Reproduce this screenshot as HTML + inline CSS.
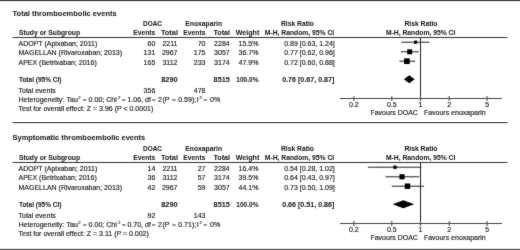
<!DOCTYPE html>
<html><head><meta charset="utf-8"><title>Forest plot</title>
<style>html,body{margin:0;padding:0;background:#fff;width:520px;height:250px;overflow:hidden}svg{display:block}text{stroke:#1a1a1a;stroke-width:0.15px}text[font-weight=bold]{stroke-width:0.05px}</style>
</head><body>
<svg width="520" height="250" viewBox="0 0 520 250" font-family="Liberation Sans, Arial, sans-serif" fill="#1a1a1a">
<defs><filter id="sf" filterUnits="userSpaceOnUse" x="0" y="0" width="520" height="250" color-interpolation-filters="sRGB"><feConvolveMatrix order="3" kernelMatrix="1 2 1 2 28 2 1 2 1" edgeMode="duplicate"/></filter></defs><rect width="520" height="250" fill="#fff"/>
<rect x="0" y="0" width="520" height="1.15" fill="#484848"/>
<rect x="12.7" y="122" width="494.8" height="1.2" fill="#5c5c5c"/>
<rect x="0" y="248.8" width="520" height="1.2" fill="#585858"/>
<g filter="url(#sf)">
<text x="12.60" y="16.00" font-size="7.5" font-weight="bold">Total thromboembolic events</text>
<text x="152.50" y="26.40" font-size="6.75" font-weight="bold" text-anchor="middle" textLength="19.00" lengthAdjust="spacingAndGlyphs">DOAC</text>
<text x="203.75" y="26.40" font-size="6.75" font-weight="bold" text-anchor="middle">Enoxaparin</text>
<text x="297.40" y="26.40" font-size="6.75" font-weight="bold" text-anchor="middle">Risk Ratio</text>
<text x="420.90" y="26.40" font-size="6.75" font-weight="bold" text-anchor="middle">Risk Ratio</text>
<text x="19.00" y="35.25" font-size="6.75" font-weight="bold">Study or Subgroup</text>
<text x="155.30" y="35.25" font-size="6.75" font-weight="bold" text-anchor="end">Events</text>
<text x="178.00" y="35.25" font-size="6.75" font-weight="bold" text-anchor="end" textLength="17.10" lengthAdjust="spacingAndGlyphs">Total</text>
<text x="205.50" y="35.25" font-size="6.75" font-weight="bold" text-anchor="end">Events</text>
<text x="230.10" y="35.25" font-size="6.75" font-weight="bold" text-anchor="end" textLength="16.60" lengthAdjust="spacingAndGlyphs">Total</text>
<text x="259.30" y="35.25" font-size="6.75" font-weight="bold" text-anchor="end" textLength="23.50" lengthAdjust="spacingAndGlyphs">Weight</text>
<text x="334.20" y="35.25" font-size="6.75" font-weight="bold" text-anchor="end">M-H, Random, 95% CI</text>
<text x="420.60" y="35.25" font-size="6.75" font-weight="bold" text-anchor="middle">M-H, Random, 95% CI</text>
<rect x="12.5" y="37" width="495" height="1" fill="#333"/>
<text x="18.50" y="45.60" font-size="7">ADOPT (Apixaban; 2011)</text>
<text x="155.30" y="45.60" font-size="7" text-anchor="end">60</text>
<text x="177.50" y="45.60" font-size="7" text-anchor="end">2211</text>
<text x="205.50" y="45.60" font-size="7" text-anchor="end">70</text>
<text x="229.70" y="45.60" font-size="7" text-anchor="end">2284</text>
<text x="258.40" y="45.60" font-size="7" text-anchor="end">15.5%</text>
<text x="334.80" y="45.60" font-size="7" text-anchor="end">0.89 [0.63, 1.24]</text>
<line x1="401.38" y1="42.20" x2="429.40" y2="42.20" stroke="#222" stroke-width="1"/>
<rect x="414.06" y="40.59" width="3.23" height="3.23" fill="#000"/>
<text x="18.50" y="55.20" font-size="7">MAGELLAN (Rivaroxaban; 2013)</text>
<text x="155.30" y="55.20" font-size="7" text-anchor="end">131</text>
<text x="177.50" y="55.20" font-size="7" text-anchor="end">2967</text>
<text x="205.50" y="55.20" font-size="7" text-anchor="end">175</text>
<text x="229.70" y="55.20" font-size="7" text-anchor="end">3057</text>
<text x="258.40" y="55.20" font-size="7" text-anchor="end">36.7%</text>
<text x="334.80" y="55.20" font-size="7" text-anchor="end">0.77 [0.62, 0.96]</text>
<line x1="400.71" y1="51.80" x2="418.81" y2="51.80" stroke="#222" stroke-width="1"/>
<rect x="407.20" y="49.32" width="4.97" height="4.97" fill="#000"/>
<text x="18.50" y="64.60" font-size="7">APEX (Betrixaban; 2016)</text>
<text x="155.30" y="64.60" font-size="7" text-anchor="end">165</text>
<text x="177.50" y="64.60" font-size="7" text-anchor="end">3112</text>
<text x="205.50" y="64.60" font-size="7" text-anchor="end">233</text>
<text x="229.70" y="64.60" font-size="7" text-anchor="end">3174</text>
<text x="258.40" y="64.60" font-size="7" text-anchor="end">47.9%</text>
<text x="334.80" y="64.60" font-size="7" text-anchor="end">0.72 [0.60, 0.88]</text>
<line x1="399.36" y1="61.20" x2="415.21" y2="61.20" stroke="#222" stroke-width="1"/>
<rect x="404.07" y="58.36" width="5.68" height="5.68" fill="#000"/>
<text x="18.90" y="82.25" font-size="6.75" font-weight="bold" textLength="42.60" lengthAdjust="spacingAndGlyphs">Total (95% CI)</text>
<text x="177.60" y="82.25" font-size="7" font-weight="bold" text-anchor="end" textLength="16.40" lengthAdjust="spacingAndGlyphs">8290</text>
<text x="229.80" y="82.25" font-size="7" font-weight="bold" text-anchor="end" textLength="16.20" lengthAdjust="spacingAndGlyphs">8515</text>
<text x="258.50" y="82.25" font-size="7" font-weight="bold" text-anchor="end" textLength="22.20" lengthAdjust="spacingAndGlyphs">100.0%</text>
<text x="334.40" y="82.25" font-size="7" font-weight="bold" text-anchor="end" textLength="52.20" lengthAdjust="spacingAndGlyphs">0.76 [0.67, 0.87]</text>
<polygon points="403.92,79.35 409.14,75.35 414.74,79.35 409.14,83.35" fill="#000"/>
<text x="18.50" y="92.60" font-size="7">Total events</text>
<text x="155.30" y="92.60" font-size="7" text-anchor="end">356</text>
<text x="205.50" y="92.60" font-size="7" text-anchor="end">478</text>
<text font-size="7.05"><tspan x="18.50" y="102.20">Heterogeneity:</tspan><tspan x="66.60" y="102.20">Tau</tspan><tspan x="78.20" y="99.30" font-size="4.3">2</tspan><tspan x="83.05" y="102.00" font-size="6.0">=</tspan><tspan x="88.60" y="102.20">0.00;</tspan><tspan x="106.15" y="102.20">Chi</tspan><tspan x="117.90" y="99.30" font-size="4.3">2</tspan><tspan x="122.00" y="102.00" font-size="6.0">=</tspan><tspan x="127.40" y="102.20">1.06,</tspan><tspan x="145.05" y="102.20">df</tspan><tspan x="152.10" y="102.00" font-size="6.0">=</tspan><tspan x="158.10" y="102.20">2</tspan><tspan x="162.50" y="102.20">(P</tspan><tspan x="172.30" y="102.00" font-size="6.0">=</tspan><tspan x="178.20" y="102.20">0.59);</tspan><tspan x="196.70" y="102.20">I</tspan><tspan x="199.60" y="99.30" font-size="4.3">2</tspan><tspan x="203.45" y="102.00" font-size="6.0">=</tspan><tspan x="210.00" y="102.20">0%</tspan></text>
<text x="18.50" y="111.40" font-size="7">Test for overall effect: Z = 3.96 (P &lt; 0.0001)</text>
<line x1="420.5" y1="37.5" x2="420.5" y2="98.5" stroke="#222" stroke-width="1"/>
<line x1="340" y1="98.5" x2="502" y2="98.5" stroke="#454545" stroke-width="1"/>
<line x1="353.89" y1="96" x2="353.89" y2="101" stroke="#454545" stroke-width="1"/>
<text x="353.89" y="106.50" font-size="7" text-anchor="middle">0.2</text>
<line x1="391.81" y1="96" x2="391.81" y2="101" stroke="#454545" stroke-width="1"/>
<text x="391.81" y="106.50" font-size="7" text-anchor="middle">0.5</text>
<line x1="420.50" y1="96" x2="420.50" y2="101" stroke="#454545" stroke-width="1"/>
<text x="420.50" y="106.50" font-size="7" text-anchor="middle">1</text>
<line x1="449.19" y1="96" x2="449.19" y2="101" stroke="#454545" stroke-width="1"/>
<text x="449.19" y="106.50" font-size="7" text-anchor="middle">2</text>
<line x1="487.11" y1="96" x2="487.11" y2="101" stroke="#454545" stroke-width="1"/>
<text x="487.11" y="106.50" font-size="7" text-anchor="middle">5</text>
<text x="417.90" y="115.00" font-size="7" text-anchor="end">Favours DOAC</text>
<text x="423.90" y="115.00" font-size="7">Favours enoxaparin</text>
<text x="12.60" y="140.00" font-size="7.5" font-weight="bold" textLength="132.50" lengthAdjust="spacingAndGlyphs">Symptomatic thromboembolic events</text>
<text x="152.50" y="151.40" font-size="6.75" font-weight="bold" text-anchor="middle" textLength="19.00" lengthAdjust="spacingAndGlyphs">DOAC</text>
<text x="203.75" y="151.40" font-size="6.75" font-weight="bold" text-anchor="middle">Enoxaparin</text>
<text x="297.40" y="151.40" font-size="6.75" font-weight="bold" text-anchor="middle">Risk Ratio</text>
<text x="420.90" y="151.40" font-size="6.75" font-weight="bold" text-anchor="middle">Risk Ratio</text>
<text x="19.00" y="160.25" font-size="6.75" font-weight="bold">Study or Subgroup</text>
<text x="155.30" y="160.25" font-size="6.75" font-weight="bold" text-anchor="end">Events</text>
<text x="178.00" y="160.25" font-size="6.75" font-weight="bold" text-anchor="end" textLength="17.10" lengthAdjust="spacingAndGlyphs">Total</text>
<text x="205.50" y="160.25" font-size="6.75" font-weight="bold" text-anchor="end">Events</text>
<text x="230.10" y="160.25" font-size="6.75" font-weight="bold" text-anchor="end" textLength="16.60" lengthAdjust="spacingAndGlyphs">Total</text>
<text x="259.30" y="160.25" font-size="6.75" font-weight="bold" text-anchor="end" textLength="23.50" lengthAdjust="spacingAndGlyphs">Weight</text>
<text x="334.20" y="160.25" font-size="6.75" font-weight="bold" text-anchor="end">M-H, Random, 95% CI</text>
<text x="420.60" y="160.25" font-size="6.75" font-weight="bold" text-anchor="middle">M-H, Random, 95% CI</text>
<rect x="12.5" y="162" width="495" height="1" fill="#333"/>
<text x="18.50" y="170.60" font-size="7">ADOPT (Apixaban; 2011)</text>
<text x="155.30" y="170.60" font-size="7" text-anchor="end">14</text>
<text x="177.50" y="170.60" font-size="7" text-anchor="end">2211</text>
<text x="205.50" y="170.60" font-size="7" text-anchor="end">27</text>
<text x="229.70" y="170.60" font-size="7" text-anchor="end">2284</text>
<text x="258.40" y="170.60" font-size="7" text-anchor="end">16.4%</text>
<text x="334.80" y="170.60" font-size="7" text-anchor="end">0.54 [0.28, 1.02]</text>
<line x1="367.81" y1="167.20" x2="421.32" y2="167.20" stroke="#222" stroke-width="1"/>
<rect x="393.34" y="165.54" width="3.32" height="3.32" fill="#000"/>
<text x="18.50" y="180.20" font-size="7">APEX (Betrixaban; 2016)</text>
<text x="155.30" y="180.20" font-size="7" text-anchor="end">36</text>
<text x="177.50" y="180.20" font-size="7" text-anchor="end">3112</text>
<text x="205.50" y="180.20" font-size="7" text-anchor="end">57</text>
<text x="229.70" y="180.20" font-size="7" text-anchor="end">3174</text>
<text x="258.40" y="180.20" font-size="7" text-anchor="end">39.5%</text>
<text x="334.80" y="180.20" font-size="7" text-anchor="end">0.64 [0.43, 0.97]</text>
<line x1="385.57" y1="176.80" x2="419.24" y2="176.80" stroke="#222" stroke-width="1"/>
<rect x="399.45" y="174.22" width="5.15" height="5.15" fill="#000"/>
<text x="18.50" y="189.60" font-size="7">MAGELLAN (Rivaroxaban; 2013)</text>
<text x="155.30" y="189.60" font-size="7" text-anchor="end">42</text>
<text x="177.50" y="189.60" font-size="7" text-anchor="end">2967</text>
<text x="205.50" y="189.60" font-size="7" text-anchor="end">59</text>
<text x="229.70" y="189.60" font-size="7" text-anchor="end">3057</text>
<text x="258.40" y="189.60" font-size="7" text-anchor="end">44.1%</text>
<text x="334.80" y="189.60" font-size="7" text-anchor="end">0.73 [0.50, 1.09]</text>
<line x1="391.81" y1="186.20" x2="424.07" y2="186.20" stroke="#222" stroke-width="1"/>
<rect x="404.75" y="183.48" width="5.45" height="5.45" fill="#000"/>
<text x="18.90" y="207.25" font-size="6.75" font-weight="bold" textLength="42.60" lengthAdjust="spacingAndGlyphs">Total (95% CI)</text>
<text x="177.60" y="207.25" font-size="7" font-weight="bold" text-anchor="end" textLength="16.40" lengthAdjust="spacingAndGlyphs">8290</text>
<text x="229.80" y="207.25" font-size="7" font-weight="bold" text-anchor="end" textLength="16.20" lengthAdjust="spacingAndGlyphs">8515</text>
<text x="258.50" y="207.25" font-size="7" font-weight="bold" text-anchor="end" textLength="22.20" lengthAdjust="spacingAndGlyphs">100.0%</text>
<text x="334.40" y="207.25" font-size="7" font-weight="bold" text-anchor="end" textLength="52.20" lengthAdjust="spacingAndGlyphs">0.66 [0.51, 0.86]</text>
<polygon points="392.63,204.35 403.30,200.35 414.26,204.35 403.30,208.35" fill="#000"/>
<text x="18.50" y="217.60" font-size="7">Total events</text>
<text x="155.30" y="217.60" font-size="7" text-anchor="end">92</text>
<text x="205.50" y="217.60" font-size="7" text-anchor="end">143</text>
<text font-size="7.05"><tspan x="18.50" y="227.20">Heterogeneity:</tspan><tspan x="66.60" y="227.20">Tau</tspan><tspan x="78.20" y="224.30" font-size="4.3">2</tspan><tspan x="83.05" y="227.00" font-size="6.0">=</tspan><tspan x="88.60" y="227.20">0.00;</tspan><tspan x="106.15" y="227.20">Chi</tspan><tspan x="117.90" y="224.30" font-size="4.3">2</tspan><tspan x="122.00" y="227.00" font-size="6.0">=</tspan><tspan x="127.40" y="227.20">0.70,</tspan><tspan x="145.05" y="227.20">df</tspan><tspan x="152.10" y="227.00" font-size="6.0">=</tspan><tspan x="158.10" y="227.20">2</tspan><tspan x="162.50" y="227.20">(P</tspan><tspan x="172.30" y="227.00" font-size="6.0">=</tspan><tspan x="178.20" y="227.20">0.71);</tspan><tspan x="196.70" y="227.20">I</tspan><tspan x="199.60" y="224.30" font-size="4.3">2</tspan><tspan x="203.45" y="227.00" font-size="6.0">=</tspan><tspan x="210.00" y="227.20">0%</tspan></text>
<text x="18.50" y="236.40" font-size="7">Test for overall effect: Z = 3.11 (P = 0.002)</text>
<line x1="420.5" y1="162.5" x2="420.5" y2="223.5" stroke="#222" stroke-width="1"/>
<line x1="340" y1="223.5" x2="502" y2="223.5" stroke="#454545" stroke-width="1"/>
<line x1="353.89" y1="221" x2="353.89" y2="226" stroke="#454545" stroke-width="1"/>
<text x="353.89" y="231.50" font-size="7" text-anchor="middle">0.2</text>
<line x1="391.81" y1="221" x2="391.81" y2="226" stroke="#454545" stroke-width="1"/>
<text x="391.81" y="231.50" font-size="7" text-anchor="middle">0.5</text>
<line x1="420.50" y1="221" x2="420.50" y2="226" stroke="#454545" stroke-width="1"/>
<text x="420.50" y="231.50" font-size="7" text-anchor="middle">1</text>
<line x1="449.19" y1="221" x2="449.19" y2="226" stroke="#454545" stroke-width="1"/>
<text x="449.19" y="231.50" font-size="7" text-anchor="middle">2</text>
<line x1="487.11" y1="221" x2="487.11" y2="226" stroke="#454545" stroke-width="1"/>
<text x="487.11" y="231.50" font-size="7" text-anchor="middle">5</text>
<text x="417.90" y="240.00" font-size="7" text-anchor="end">Favours DOAC</text>
<text x="423.90" y="240.00" font-size="7">Favours enoxaparin</text>
</g></svg>
</body></html>
